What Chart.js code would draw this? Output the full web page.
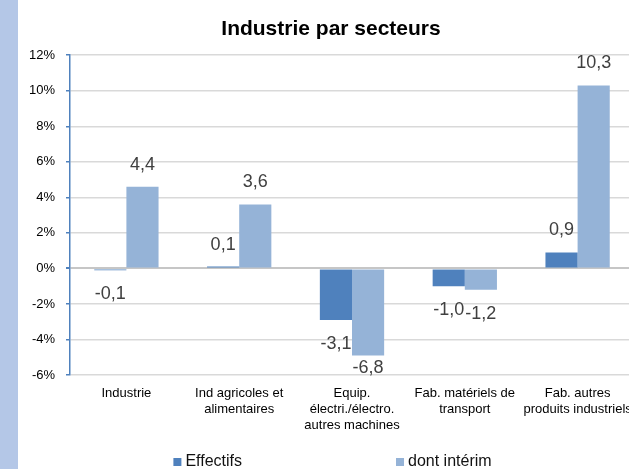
<!DOCTYPE html>
<html>
<head>
<meta charset="utf-8">
<script src="https://cdn.jsdelivr.net/npm/chart.js@4.4.1/dist/chart.umd.min.js"></script>
<style>
html, body { margin: 0; padding: 0; background: #fff; overflow: hidden; }
#wrap { width: 629px; height: 469px; overflow: hidden; position: relative; }
canvas { display: block; }
</style>
</head>
<body>
<div id="wrap"><canvas id="chart" width="650" height="469" style="width:650px;height:469px"></canvas></div>
<script>
const categories = [
    ['Industrie'],
    ['Ind agricoles et', 'alimentaires'],
    ['Equip.', 'électri./électro.', 'autres machines'],
    ['Fab. matériels de', 'transport'],
    ['Fab. autres', 'produits industriels']
];
const effectifs = [-0.1, 0.1, -2.9, -1.0, 0.9];
const interim = [4.6, 3.6, -4.9, -1.2, 10.3];
const effectifsLabels = ['-0,1', '0,1', '-3,1', '-1,0', '0,9'];
const interimLabels = ['4,4', '3,6', '-6,8', '-1,2', '10,3'];
const seriesNames = ['Effectifs', 'dont intérim'];
const yMin = -6, yMax = 12, yStep = 2;

const FONT = '"Liberation Sans", Arial, sans-serif';
const BLUE = '#4f81bd';
const LIGHT = '#95b3d7';

// bande bleue a gauche
const stripPlugin = {
    id: 'strip',
    beforeDraw(chart) {
        const ctx = chart.ctx;
        ctx.save();
        ctx.fillStyle = '#b4c7e7';
        ctx.fillRect(0, 0, 18, chart.height);
        ctx.restore();
    }
};

// etiquettes de valeurs
const valueLabels = {
    id: 'valueLabels',
    afterDatasetsDraw(chart) {
        const ctx = chart.ctx;
        const area = chart.chartArea;
        const texts = [effectifsLabels, interimLabels];
        ctx.save();
        ctx.font = '18px ' + FONT;
        ctx.fillStyle = '#404040';
        ctx.textAlign = 'center';
        ctx.textBaseline = 'middle';
        chart.data.datasets.forEach((ds, di) => {
            chart.getDatasetMeta(di).data.forEach((bar, i) => {
                let y = ds.data[i] >= 0 ? bar.y - 22 : bar.y + 24;
                y = Math.min(y, area.bottom - 7);
                ctx.fillText(texts[di][i], bar.x, y);
            });
        });
        ctx.restore();
    }
};

// legende en bas
const bottomLegend = {
    id: 'bottomLegend',
    afterDraw(chart) {
        const ctx = chart.ctx;
        ctx.save();
        ctx.font = '16px ' + FONT;
        ctx.textBaseline = 'middle';
        const box = 8, gapText = 4, gapItem = 154;
        const widths = chart.data.datasets.map(ds => box + gapText + ctx.measureText(ds.label).width);
        const total = widths.reduce((a, b) => a + b, 0) + gapItem * (widths.length - 1);
        let x = 332.5 - total / 2;
        const y = 462;
        chart.data.datasets.forEach((ds, i) => {
            ctx.fillStyle = ds.backgroundColor;
            ctx.fillRect(x, y - box / 2, box, box);
            ctx.fillStyle = '#111';
            ctx.fillText(ds.label, x + box + gapText, y);
            x += widths[i] + gapItem;
        });
        ctx.restore();
    }
};

new Chart(document.getElementById('chart'), {
    type: 'bar',
    data: {
        labels: categories,
        datasets: [
            { label: seriesNames[0], data: effectifs, backgroundColor: BLUE },
            { label: seriesNames[1], data: interim, backgroundColor: LIGHT }
        ]
    },
    options: {
        responsive: false,
        animation: false,
        events: [],
        datasets: { bar: { categoryPercentage: 0.57, barPercentage: 1 } },
        layout: { padding: { left: 28, right: 16, top: 0, bottom: 0 } },
        plugins: {
            legend: { display: false },
            tooltip: { enabled: false },
            title: {
                display: true,
                text: 'Industrie par secteurs',
                color: '#000',
                font: { family: FONT, size: 21, weight: 'bold' },
                padding: { top: 17, bottom: 13 }
            }
        },
        scales: {
            x: {
                grid: { display: false, drawTicks: false },
                border: { display: false },
                ticks: {
                    color: '#000',
                    font: { family: FONT, size: 13, lineHeight: 1.23 },
                    padding: 10,
                    maxRotation: 0,
                    autoSkip: false
                },
                afterFit(s) { s.height = 94; }
            },
            y: {
                min: yMin,
                max: yMax,
                ticks: {
                    stepSize: yStep,
                    color: '#000',
                    font: { family: FONT, size: 13 },
                    padding: 11,
                    callback: v => v + '%'
                },
                grid: {
                    color: c => c.tick && c.tick.value === 0 ? '#c6c6c6' : '#d9d9d9',
                    lineWidth: c => c.tick && c.tick.value === 0 ? 2 : 1.5,
                    tickColor: BLUE,
                    tickLength: 4
                },
                border: { color: BLUE, width: 1.5 },
                afterFit(s) { s.width = 42; }
            }
        }
    },
    plugins: [stripPlugin, valueLabels, bottomLegend]
});
</script>
</body>
</html>
